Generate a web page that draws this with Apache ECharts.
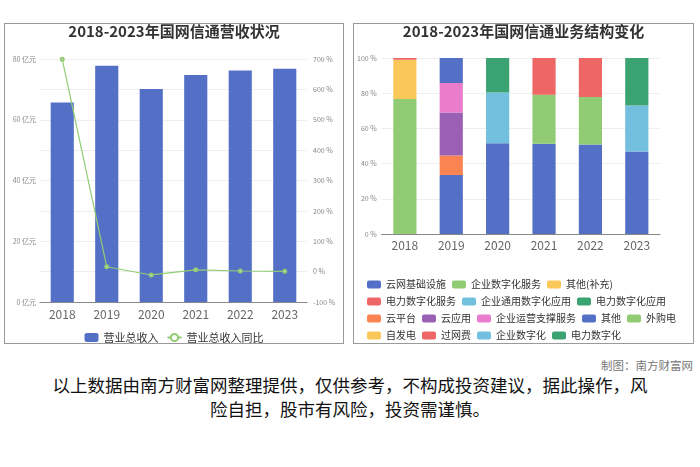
<!DOCTYPE html>
<html>
<head>
<meta charset="utf-8">
<script src="https://cdn.jsdelivr.net/npm/echarts@6/dist/echarts.min.js"></script>
<style>
  body { margin: 0; background: #fff; font-family: "Noto Sans CJK SC", sans-serif; }
  .panel { position: absolute; top: 23px; height: 321px; box-sizing: border-box; border: 1px solid #9a9a9a; }
  .chart { position: absolute; left: 0; top: 0; right: 0; bottom: 0; }
  #credit { position: absolute; right: 7px; top: 357px; font-size: 11.5px; color: #777; }
  #note { position: absolute; left: 0; width: 700px; top: 373px; text-align: center; font-size: 17.5px; line-height: 24px; color: #111; }
</style>
</head>
<body>
<div class="panel" style="left:4px;width:340px"><div class="chart" id="revenue"></div></div>
<div class="panel" style="left:353px;width:341px"><div class="chart" id="structure"></div></div>
<div id="credit">制图：南方财富网</div>
<div id="note">以上数据由南方财富网整理提供，仅供参考，不构成投资建议，据此操作，风<br>险自担，股市有风险，投资需谨慎。</div>
<script>
// years
const years = ["2018", "2019", "2020", "2021", "2022", "2023"];

// 营收 (亿元) and yoy (%)
const revenue = [65.7, 77.8, 70.1, 74.7, 76.2, 76.8];
const revenueYoy = [699, 16, -11, 6, 2, 1];

// business structure, % of revenue
const yunWangJiChu = [null, 33.5, 51.5, 51.3, 50.8, 46.9];
const qiYeShuZiFuWu = [null, null, null, 27.8, 27.0, null];
const qiTaBuChong = [null, null, null, null, null, null];
const dianLiShuZiFuWu = [null, null, null, 20.9, 22.2, null];
const qiYeTongYongYingYong = [null, null, 28.9, null, null, null];
const dianLiShuZiYingYong = [null, null, 19.6, null, null, null];
const yunPingTai = [null, 11.1, null, null, null, null];
const yunYingYong = [null, 24.4, null, null, null, null];
const yunYingZhiCheng = [null, 16.8, null, null, null, null];
const qiTa = [null, 14.2, null, null, null, null];
const waiGouDian = [76.7, null, null, null, null, null];
const ziFaDian = [22.3, null, null, null, null, null];
const guoWangFei = [1.0, null, null, null, null, null];
const qiYeShuZiHua = [null, null, null, null, null, 26.1];
const dianLiShuZiHua = [null, null, null, null, null, 27.0];

const structureSeries = [
  ["云网基础设施", yunWangJiChu],
  ["企业数字化服务", qiYeShuZiFuWu],
  ["其他(补充)", qiTaBuChong],
  ["电力数字化服务", dianLiShuZiFuWu],
  ["企业通用数字化应用", qiYeTongYongYingYong],
  ["电力数字化应用", dianLiShuZiYingYong],
  ["云平台", yunPingTai],
  ["云应用", yunYingYong],
  ["企业运营支撑服务", yunYingZhiCheng],
  ["其他", qiTa],
  ["外购电", waiGouDian],
  ["自发电", ziFaDian],
  ["过网费", guoWangFei],
  ["企业数字化", qiYeShuZiHua],
  ["电力数字化", dianLiShuZiHua]
];

const palette = ["#5470c6", "#91cc75", "#fac858", "#ee6666", "#73c0de", "#3ba272", "#fc8452", "#9a60b4", "#ea7ccc"];
const font = "Noto Sans CJK SC";
const titleStyle = { fontFamily: font, fontSize: 15, fontWeight: "bold", color: "#333" };

// left: revenue
const revChart = echarts.init(document.getElementById("revenue"));
revChart.setOption({
  animation: false,
  color: palette,
  title: { text: "2018-2023年国网信通营收状况", left: "center", top: -5, textStyle: titleStyle },
  legend: {
    top: 303,
    itemWidth: 14,
    itemHeight: 9,
    itemGap: 8,
    textStyle: { fontFamily: font, fontSize: 11, color: "#333" },
    data: ["营业总收入", "营业总收入同比"]
  },
  grid: { left: 35, right: 36, top: 35, bottom: 41 },
  xAxis: {
    type: "category",
    data: years,
    axisLine: { lineStyle: { color: "#888" } },
    axisTick: { lineStyle: { color: "#888" } },
    axisLabel: { fontFamily: font, fontSize: 12, color: "#666", margin: 6 }
  },
  yAxis: [
    {
      type: "value", min: 0, max: 80, interval: 10,
      axisLabel: {
        fontFamily: font, fontSize: 7, color: "#888", margin: 4,
        formatter: v => (v % 20 === 0 ? v + " 亿元" : "")
      },
      splitLine: { lineStyle: { color: "#eee" } }
    },
    {
      type: "value", min: -100, max: 700, interval: 100,
      axisLabel: { fontFamily: font, fontSize: 7, color: "#888", margin: 6, formatter: "{value} %" },
      splitLine: { show: false }
    }
  ],
  series: [
    {
      name: "营业总收入", type: "bar", data: revenue, barWidth: "52%",
      itemStyle: { color: "#5470c6" }
    },
    {
      name: "营业总收入同比", type: "line", yAxisIndex: 1, data: revenueYoy,
      symbol: "emptyCircle", symbolSize: 3,
      lineStyle: { color: "#91cc75", width: 1.2 },
      itemStyle: { color: "#91cc75" }
    }
  ]
});

// right: structure
const structChart = echarts.init(document.getElementById("structure"));
structChart.setOption({
  animation: false,
  color: palette,
  title: { text: "2018-2023年国网信通业务结构变化", left: "center", top: -5, textStyle: titleStyle },
  legend: {
    left: 8,
    top: 250,
    width: 322,
    itemWidth: 14,
    itemHeight: 8,
    itemGap: 6,
    textStyle: { fontFamily: font, fontSize: 10, color: "#333", lineHeight: 11 },
    data: structureSeries.map(s => s[0])
  },
  grid: { left: 27, right: 33, top: 34, bottom: 109 },
  xAxis: {
    type: "category",
    data: years,
    axisLine: { lineStyle: { color: "#888" } },
    axisTick: { lineStyle: { color: "#888" } },
    axisLabel: { fontFamily: font, fontSize: 12, color: "#666", margin: 5 }
  },
  yAxis: {
    type: "value", min: 0, max: 100, interval: 20,
    axisLabel: { fontFamily: font, fontSize: 7, color: "#888", margin: 5, formatter: "{value} %" },
    splitLine: { lineStyle: { color: "#eee" } }
  },
  series: structureSeries.map(s => ({
    name: s[0], type: "bar", stack: "total", data: s[1], barWidth: "50%"
  }))
});
</script>
</body>
</html>
